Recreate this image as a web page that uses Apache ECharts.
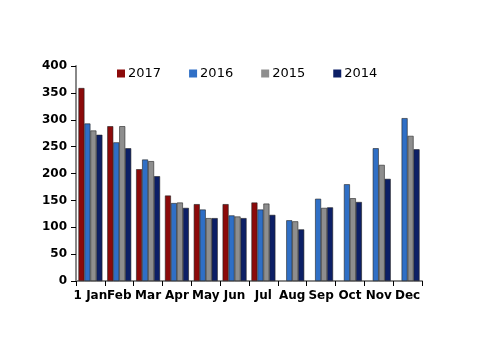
<!DOCTYPE html>
<html>
<head>
<meta charset="utf-8">
<script src="https://cdn.jsdelivr.net/npm/echarts@6/dist/echarts.min.js"></script>
<style>
  html, body { margin: 0; padding: 0; background: #fff; }
  #chart { width: 500px; height: 354px; }
</style>
</head>
<body>
<div id="chart"></div>
<script>
// monthly values per year
const months = ["1 Jan", "Feb", "Mar", "Apr", "May", "Jun", "Jul", "Aug", "Sep", "Oct", "Nov", "Dec"];
const y2017 = [359, 288, 208, 159, 143, 143, 146, null, null, null, null, null];
const y2016 = [293, 258, 226, 145, 133, 122, 133, 113, 153, 180, 247, 303];
const y2015 = [280, 288, 223, 146, 117, 120, 144, 111, 136, 154, 216, 270];
const y2014 = [272, 247, 195, 136, 117, 117, 123, 96, 137, 147, 190, 245];
const yTicks = { min: 0, max: 400, step: 50 };

const chart = echarts.init(document.getElementById("chart"));

function bar(name, color, data) {
  return {
    name: name,
    type: "bar",
    data: data,
    barGap: 0,
    barCategoryGap: "17%",
    itemStyle: {
      color: color,
      borderColor: "#222",
      borderWidth: 0.6
    }
  };
}

const option = {
  animation: false,
  textStyle: { fontFamily: "DejaVu Sans" },
  legend: {
    top: 62,
    left: 112,
    itemWidth: 8,
    itemHeight: 8,
    itemGap: 28,
    icon: "rect",
    itemStyle: { borderWidth: 0 },
    textStyle: { fontSize: 13, color: "#000", padding: [0, 0, 0, -2] },
    data: ["2017", "2016", "2015", "2014"]
  },
  grid: {
    top: 66,
    bottom: 73,
    left: 76,
    right: 78
  },
  xAxis: {
    type: "category",
    data: months,
    axisLine: { lineStyle: { color: "#888", width: 2 } },
    axisTick: { show: true, length: 5, lineStyle: { color: "#000" } },
    axisLabel: { color: "#000", fontSize: 12, fontWeight: "bold", margin: 9, interval: 0 }
  },
  yAxis: {
    type: "value",
    min: yTicks.min,
    max: yTicks.max,
    interval: yTicks.step,
    axisLine: { show: true, lineStyle: { color: "#888", width: 2 } },
    axisTick: { show: true, length: 5, lineStyle: { color: "#000" } },
    splitLine: { show: false },
    axisLabel: { color: "#000", fontSize: 12, fontWeight: "bold", margin: 9 }
  },
  series: [
    bar("2017", "#8c0a0a", y2017),
    bar("2016", "#2f6fc6", y2016),
    bar("2015", "#8e8e8e", y2015),
    bar("2014", "#0c1f66", y2014)
  ]
};

chart.setOption(option);
</script>
</body>
</html>
